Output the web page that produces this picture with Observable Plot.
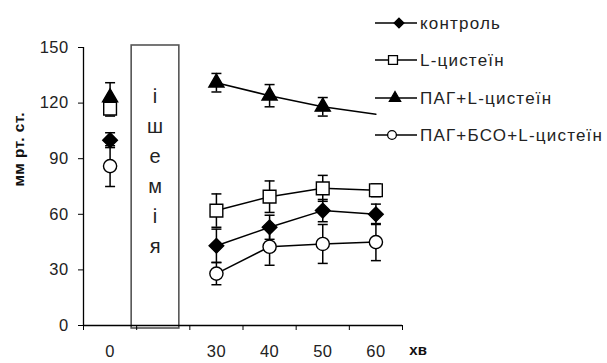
<!DOCTYPE html>
<html>
<head>
<meta charset="utf-8">
<script src="https://cdn.jsdelivr.net/npm/d3@7"></script>
<script src="https://cdn.jsdelivr.net/npm/@observablehq/plot@0.6"></script>
<style>
  body { margin: 0; background: #fff; }
  #wrap { position: relative; width: 607px; height: 363px; font-family: "Liberation Sans", Arial, sans-serif; }
  #legend { position: absolute; left: 0; top: 0; }
</style>
</head>
<body>
<div id="wrap"></div>
<script>
// ---- data ----
const slots = ["0", "", "30", "40", "50", "60"];        // x categories (blank = ischemia)
const times = ["0", "30", "40", "50", "60"];
const seriesNames = ["контроль", "L-цистеїн", "ПАГ+L-цистеїн", "ПАГ+БСО+L-цистеїн"];
const control    = [100, 43, 53, 62, 60];
const controlErr = [4, 9, 6.5, 6, 5.5];
const lcys       = [117, 62, 69.5, 74, 73];
const lcysErr    = [4, 9, 8.5, 7, 3.5];
const pag        = [123, 131, 124, 118, 114];
const pagErr     = [8, 5, 6, 5, null];
const pagMarker  = [true, true, true, true, false];
const bso        = [86, 28, 42.5, 44, 45];
const bsoErr     = [11, 6, 10, 10.5, 10];
const yTicks = [0, 30, 60, 90, 120, 150];
const ischemiaLabel = "ішемія";
const yLabel = "мм рт. ст.";
const xUnit = "хв";

// ---- build table ----
const values = [control, lcys, pag, bso];
const errs = [controlErr, lcysErr, pagErr, bsoErr];
const data = [];
seriesNames.forEach((s, si) => {
  times.forEach((t, ti) => {
    data.push({
      series: s, si, time: t,
      pos: slots.indexOf(t) + 0.5,
      v: values[si][ti],
      e: errs[si][ti],
      marker: si === 2 ? pagMarker[ti] : true
    });
  });
});
const withErr = data.filter(d => d.e != null);
const lineData = data.filter(d => d.time !== "0");
const markerData = data.filter(d => d.marker);

const capSymbol = { draw(ctx) { ctx.moveTo(-5, 0); ctx.lineTo(5, 0); } };
const symbols = ["diamond2", "square", "triangle", "circle"];
const radii = [6.6, 7.2, 5.6, 6.6];
const fills = ["black", "white", "black", "white"];

const font = "Liberation Sans, Arial, sans-serif";
const ischIdx = slots.indexOf("");

const chart = Plot.plot({
  width: 607, height: 363,
  marginLeft: 83, marginRight: 205, marginTop: 47, marginBottom: 38,
  style: { fontFamily: font, fontSize: "16.5px", color: "#222", background: "white", letterSpacing: "0.4px" },
  x: { domain: [0, slots.length], axis: null },
  y: { domain: [0, 150], axis: null },
  marks: [
    // ischemia box
    Plot.rect([{ x1: ischIdx, x2: ischIdx + 1 }], {
      x1: "x1", x2: "x2", y1: 0, y2: 150,
      fill: "white", stroke: "#555", strokeWidth: 1.6,
      insetLeft: -5, insetRight: 10.5, insetTop: -2, insetBottom: -3
    }),
    Plot.text([ischemiaLabel], {
      x: ischIdx + 0.5, y: 85, dx: -8,
      text: d => d.split("").join("\n"),
      lineHeight: 1.5, lineAnchor: "middle",
      fontSize: 20, fill: "#222"
    }),
    // axes
    Plot.ruleX([0], { stroke: "black", strokeWidth: 1.3 }),
    Plot.ruleY([0], { stroke: "black", strokeWidth: 1.3 }),
    Plot.axisY({ ticks: yTicks, tickSize: 5, tickPadding: 10, stroke: "black", fill: "#222", label: null }),
    Plot.axisX({ ticks: d3.range(0, slots.length + 1), tickSize: 5, tickFormat: () => "", stroke: "black", label: null }),
    Plot.axisX({ ticks: slots.map((s, i) => i + 0.5).filter((p, i) => slots[i] !== ""),
      tickSize: 0, tickPadding: 20, tickFormat: p => slots[p - 0.5], fill: "#222", label: null }),
    Plot.text([yLabel], { frameAnchor: "left", rotate: -90, dx: -64, fontWeight: "bold", fontSize: 15.5, fill: "#111" }),
    Plot.text([xUnit], { frameAnchor: "bottom-right", dx: 25, dy: 29, fontWeight: "bold", fontSize: 15, fill: "#111" }),
    // lines
    Plot.line(lineData, { x: "pos", y: "v", z: "series", stroke: "black", strokeWidth: 1.5 }),
    // error bars
    Plot.ruleX(withErr, { x: "pos", y1: d => d.v - d.e, y2: d => d.v + d.e, stroke: "black", strokeWidth: 1.5 }),
    Plot.dot(withErr, { x: "pos", y: d => d.v - d.e, symbol: capSymbol, stroke: "black", strokeWidth: 1.5, fill: "none" }),
    Plot.dot(withErr, { x: "pos", y: d => d.v + d.e, symbol: capSymbol, stroke: "black", strokeWidth: 1.5, fill: "none" }),
    // markers
    ...seriesNames.map((s, si) => Plot.dot(markerData.filter(d => d.si === si), {
      x: "pos", y: "v", symbol: symbols[si], r: radii[si],
      fill: fills[si], stroke: "black", strokeWidth: 1.4
    }))
  ]
});
const wrap = document.getElementById("wrap");
wrap.appendChild(chart);

// ---- legend overlay ----
const lg = d3.select(wrap).append("svg").attr("id", "legend").attr("width", 607).attr("height", 160);
const rowY = [23, 60, 98, 135];
const markX = [399, 393, 395, 392];
const legSize = [60, 80, 55, 60];
seriesNames.forEach((s, i) => {
  const g = lg.append("g").attr("transform", `translate(0,${rowY[i]})`);
  g.append("line").attr("x1", 375).attr("x2", 417).attr("y1", 0).attr("y2", 0).attr("stroke", "black").attr("stroke-width", 1.5);
  const sym = [d3.symbolDiamond2, d3.symbolSquare, d3.symbolTriangle, d3.symbolCircle][i];
  g.append("path").attr("d", d3.symbol(sym, legSize[i])()).attr("transform", `translate(${markX[i]},0)`)
    .attr("fill", fills[i]).attr("stroke", "black").attr("stroke-width", 1.3);
  g.append("text").attr("x", 420).attr("y", 0).attr("dy", "0.35em").text(s)
    .attr("font-family", font).attr("font-size", 17).attr("letter-spacing", "1.2px").attr("fill", "#222");
});
</script>
</body>
</html>
